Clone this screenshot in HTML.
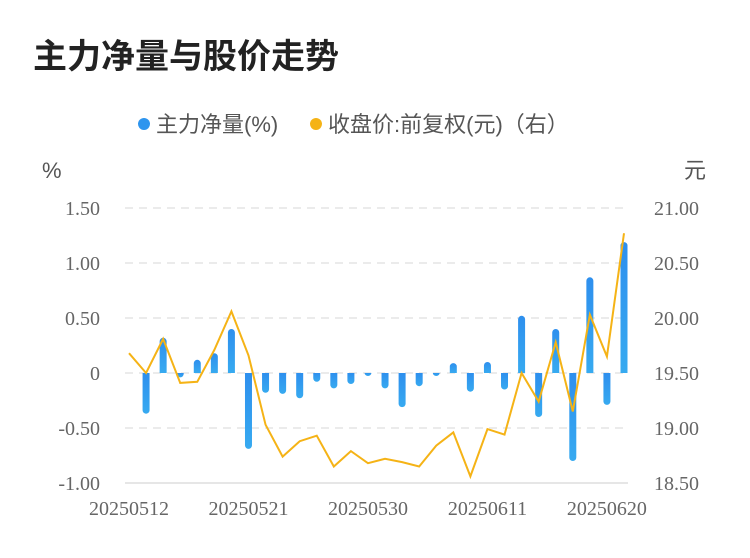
<!DOCTYPE html>
<html><head><meta charset="utf-8"><style>
body{margin:0;background:#fff;width:750px;height:558px;overflow:hidden}
svg{display:block}
</style></head><body>
<svg id="chart" width="750" height="558">
<defs><linearGradient id="bg" x1="0" y1="0" x2="0" y2="1"><stop offset="0" stop-color="#2e8fee"/><stop offset="1" stop-color="#37aaf0"/></linearGradient></defs>
<text x="33" y="68" font-family="'Liberation Sans','Noto Sans CJK SC',sans-serif" font-size="34" font-weight="bold" fill="#222">主力净量与股价走势</text>
<g font-family="'Liberation Sans','Noto Sans CJK SC',sans-serif" font-size="22" fill="#555">
<circle cx="144" cy="124" r="6" fill="#2e95ee"/>
<text x="156" y="132">主力净量(%)</text>
<circle cx="316" cy="124" r="6" fill="#f5b316"/>
<text x="328" y="132">收盘价:前复权(元)（右）</text>
</g>
<text x="42" y="178" font-family="'Liberation Sans',sans-serif" font-size="22" fill="#555">%</text>
<text x="684" y="178" font-family="'Liberation Sans','Noto Sans CJK SC',sans-serif" font-size="22" fill="#555">元</text>
<g id="grid"></g><g id="bars"></g><g id="line"></g><g id="axes"></g>
</svg>
<script>
const dates=["20250512","20250513","20250514","20250515","20250516","20250519","20250520","20250521","20250522","20250523","20250526","20250527","20250528","20250529","20250530","20250603","20250604","20250605","20250606","20250609","20250610","20250611","20250612","20250613","20250616","20250617","20250618","20250619","20250620","20250623"];
const netFlow=[0,-0.37,0.32,-0.04,0.12,0.18,0.40,-0.69,-0.18,-0.19,-0.23,-0.08,-0.14,-0.10,-0.02,-0.14,-0.31,-0.12,-0.02,0.09,-0.17,0.10,-0.15,0.52,-0.40,0.40,-0.80,0.87,-0.29,1.19];
const price=[19.68,19.50,19.81,19.41,19.42,19.71,20.06,19.66,19.03,18.74,18.88,18.93,18.65,18.79,18.68,18.72,18.69,18.65,18.84,18.96,18.56,18.99,18.94,19.50,19.24,19.78,19.15,20.03,19.65,20.77];
const leftTicks=["1.50","1.00","0.50","0","-0.50","-1.00"];
const rightTicks=["21.00","20.50","20.00","19.50","19.00","18.50"];
const xLabelIdx=[0,7,14,21,28];
const NS="http://www.w3.org/2000/svg";
const X0=129,X1=624,YT=208,YB=483;
const x=i=>X0+i*(X1-X0)/(dates.length-1);
const yL=v=>YT+(1.5-v)*(YB-YT)/2.5;
const yR=v=>YT+(21-v)*(YB-YT)/2.5;
function mk(t,a,p){const e=document.createElementNS(NS,t);for(const k in a)e.setAttribute(k,a[k]);p.appendChild(e);return e;}
const grid=document.getElementById('grid'),axes=document.getElementById('axes');
leftTicks.forEach((t,i)=>{const y=YT+i*(YB-YT)/5;
 const g=mk('line',{x1:125,x2:628,y1:y,y2:y,stroke:i==5?'#e6e6e6':'#ebebeb','stroke-width':2,'stroke-dasharray':i==5?'':'8,6'},grid);
 
 
 const l=mk('text',{x:100,y:y+7,'text-anchor':'end','font-family':"'Liberation Serif',serif",'font-size':20,fill:'#666'},axes);l.textContent=t;
 
 
 const r=mk('text',{x:654,y:y+7,'font-family':"'Liberation Serif',serif",'font-size':20,fill:'#666'},axes);r.textContent=rightTicks[i];
 
 
});
xLabelIdx.forEach(i=>{const t=mk('text',{x:x(i),y:515,'text-anchor':'middle','font-family':"'Liberation Serif',serif",'font-size':20,fill:'#666'},axes);t.textContent=dates[i];
 
 
});
const bars=document.getElementById('bars');
netFlow.forEach((v,i)=>{if(v===0)return;const y0=yL(0),y1=yL(v);const top=Math.min(y0,y1),h=Math.max(Math.abs(y1-y0),3);
 const b=mk('path',{fill:'url(#bg)'},bars);
 const w=7,l=x(i)-w/2,r=3.5;
 if(v>0)b.setAttribute('d',`M${l},${y0}V${top+r}A${r},${r} 0 0 1 ${l+w},${top+r}V${y0}Z`);
 else b.setAttribute('d',`M${l},${y0}V${y0+h-r}A${r},${r} 0 0 0 ${l+w},${y0+h-r}V${y0}Z`);
 
 
});
const pl=mk('polyline',{fill:'none',stroke:'#f5b316','stroke-width':2,'stroke-linejoin':'miter',points:price.map((p,i)=>x(i)+','+yR(p)).join(' ')},document.getElementById('line'));


</script>
</body></html>
